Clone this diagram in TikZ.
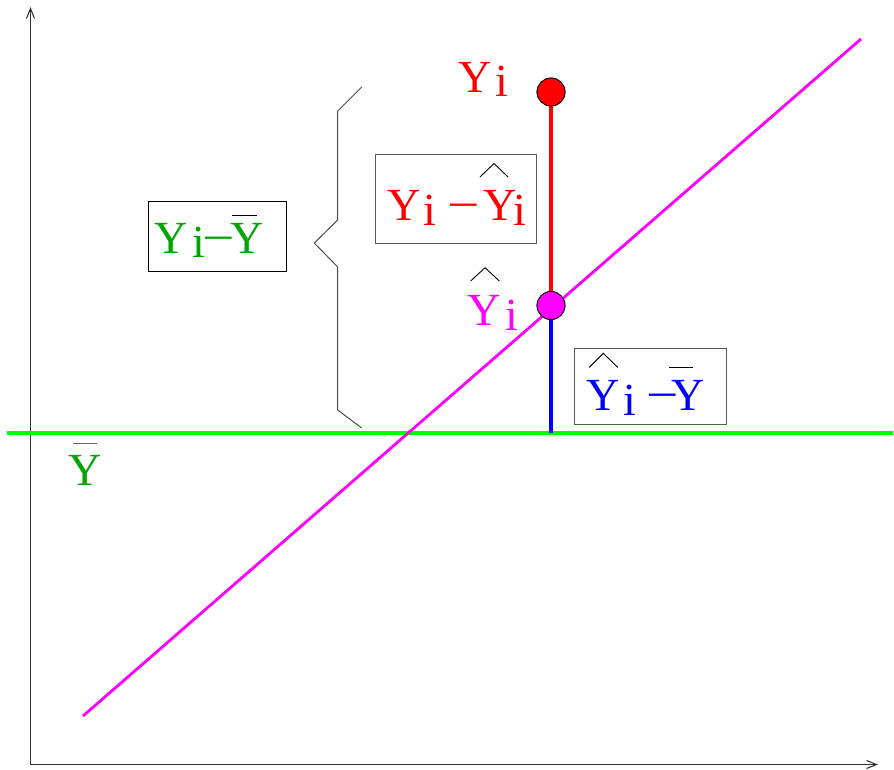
\documentclass[tikz,border=0pt]{standalone}
\usepackage{fontspec}
\setmainfont{Liberation Serif}
\usetikzlibrary{arrows.meta}
\definecolor{txtgreen}{RGB}{0,165,0}
\definecolor{linegreen}{RGB}{0,255,0}
\definecolor{puremagenta}{RGB}{255,0,255}
\definecolor{purered}{RGB}{255,0,0}
\definecolor{pureblue}{RGB}{0,0,255}
\tikzset{
  glyph/.style={inner sep=0pt, outer sep=0pt, anchor=base west, font=\fontsize{46}{50}\selectfont},
  minusglyph/.style={inner sep=0pt, outer sep=0pt, anchor=base west, font=\fontsize{46}{50}\selectfont},
  box/.style={draw=black!65, line width=1pt, rectangle, inner sep=0pt},
  mark line/.style={draw=black, line width=0.9pt},
  axis/.style={draw=black!80, line width=1.1pt, -{Straight Barb[length=10pt,width=8pt]}},
  dot/.style={circle, draw=black, line width=0.8pt, minimum size=28pt, inner sep=0pt}
}
\begin{document}
\begin{tikzpicture}[x=1pt,y=-1pt]
\useasboundingbox (0,0) rectangle (894,769);
% axes
\coordinate (O) at (30.5,764.5);
\coordinate (ytop) at (30.5,7);
\coordinate (xend) at (878,764.5);
\draw[axis] (O) -- (ytop);
\draw[axis] (O) -- (xend);
% mean line
\coordinate (gl) at (7,433);
\coordinate (gr) at (893,433);
\draw[linegreen, line width=3.3pt] (gl) -- (gr);
% regression line
\coordinate (ml) at (83,716);
\coordinate (mr) at (861,39);
\draw[puremagenta, line width=2.8pt] (ml) -- (mr);
% points
\node[dot, fill=purered] (yi) at (551,92) {};
\node[dot, fill=puremagenta] (yhat) at (551,305.5) {};
\coordinate (foot) at (551,433);
\draw[purered, line width=4.5pt] (yi) -- (yhat);
\draw[pureblue, line width=4.5pt] (yhat) -- (foot);
\node[dot, fill=purered] at (yi) {};
\node[dot, fill=puremagenta] at (yhat) {};
% brace
\draw[black!70, line width=1pt] (361.7,87) -- (337.7,111) -- (337.7,220) -- (314.3,243) -- (337.7,267) -- (337.7,410) -- (361.7,428);
% boxes
\node[box, minimum width=161pt, minimum height=89pt] (bred) at (456.2,198.5) {};
\node[box, draw=black, minimum width=138pt, minimum height=70pt] (bgreen) at (217,236.7) {};
\node[box, minimum width=151.7pt, minimum height=76pt] (bblue) at (650.8,386) {};
% red top label Yi
\node[glyph, purered] (rY) at (458,92) {Y};
\node[glyph, purered] (ri) at (495,96) {i};
% red box label
\node[glyph, purered] (rbY1) at (387,220) {Y};
\node[glyph, purered] (rbi1) at (423,225) {i};
\node[minusglyph, purered] (rbm) at (447,220) {\scalebox{1.25}[1]{−}};
\node[glyph, purered] (rbY2) at (483,220) {Y};
\node[glyph, purered] (rbi2) at (513,225) {i};
\draw[mark line] (480,177) -- (494,163.5) -- (508,177);
% green box label
\node[glyph, txtgreen] (gbY1) at (154,253) {Y};
\node[glyph, txtgreen] (gbi1) at (192,257) {i};
\node[minusglyph, txtgreen] (gbm) at (202,253) {\scalebox{1.25}[1]{−}};
\node[glyph, txtgreen] (gbY2) at (230,253) {Y};
\draw[mark line] (232,215) -- (257,215);
% blue box label
\node[glyph, pureblue] (bbY1) at (586,410) {Y};
\node[glyph, pureblue] (bbi1) at (623,415) {i};
\node[minusglyph, pureblue] (bbm) at (646,410) {\scalebox{1.25}[1]{−}};
\node[glyph, pureblue] (bbY2) at (671,410) {Y};
\draw[mark line] (589.3,367.3) -- (603.3,353.3) -- (617.7,367.3);
\draw[mark line] (669,367) -- (693,367);
% magenta Yhat label
\node[glyph, puremagenta] (mY) at (467,325) {Y};
\node[glyph, puremagenta] (mi) at (505,330) {i};
\draw[mark line] (470.7,281) -- (485,267.7) -- (499.3,281);
% green Ybar label
\node[glyph, txtgreen] (gY) at (68,485) {Y};
\draw[mark line, draw=black!60] (73,443) -- (97,443);
\end{tikzpicture}
\end{document}
